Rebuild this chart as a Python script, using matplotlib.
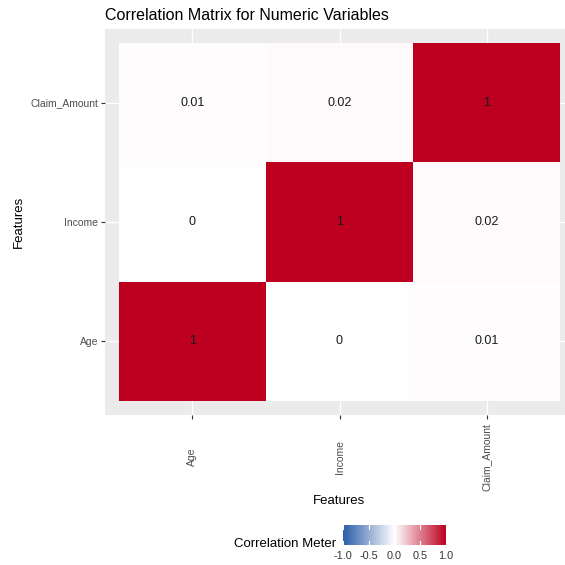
import numpy as np
import matplotlib.pyplot as plt
from matplotlib.colors import LinearSegmentedColormap, Normalize

plt.rcParams['font.family'] = ['Liberation Sans', 'DejaVu Sans']

# Data
features = ["Age", "Income", "Claim_Amount"]
corr = np.array([
    [1.00, 0.00, 0.01],
    [0.00, 1.00, 0.02],
    [0.01, 0.02, 1.00],
])
cbar_ticks = [-1.0, -0.5, 0.0, 0.5, 1.0]

cmap = LinearSegmentedColormap.from_list("rdwb", ["#2B5DA8", "#FFFFFF", "#BD0020"])
norm = Normalize(-1, 1)

W = H = 565
fig = plt.figure(figsize=(W / 100, H / 100), dpi=100)

def fx(px):
    return px / W

def fy(py):
    return 1 - py / H

# Panel (extends slightly past the right edge like the original)
left, right, top, bottom = 105, 574, 29, 415
ax = fig.add_axes([fx(left), fy(bottom), fx(right - left), (bottom - top) / H])
ax.set_facecolor("#EBEBEB")
n = len(features)
pad = 0.095
ax.set_xlim(0.5 - pad, n + 0.5 + pad)
ax.set_ylim(0.5 - pad * 147 / 120.7, n + 0.5 + pad * 147 / 120.7)

xs = np.arange(n + 1) + 0.5
ax.pcolormesh(xs, xs, corr, cmap=cmap, norm=norm, zorder=2)

for i in range(n):
    for j in range(n):
        v = corr[i, j]
        label = f"{v:g}" if v in (0, 1) else f"{v:.2f}"
        ax.text(j + 1, i + 1, label, ha="center", va="center",
                fontsize=9, color="#1A1A1A", zorder=3)

ax.set_xticks(range(1, n + 1))
ax.set_yticks(range(1, n + 1))
ax.set_xticklabels(features, rotation=90, va="center", ha="center")
ax.set_yticklabels(features)
ax.grid(True, color="white", linewidth=1.0, zorder=0)
ax.set_axisbelow(True)
for s in ax.spines.values():
    s.set_visible(False)
ax.tick_params(axis="both", length=3, width=0.8, color="#333333",
               labelsize=7.5, labelcolor="#4D4D4D")
ax.tick_params(axis="x", pad=27)
ax.tick_params(axis="y", pad=2)

ax.set_xlabel("Features", fontsize=9.5, color="black", labelpad=3)
ax.set_ylabel("Features", fontsize=9.5, color="black", labelpad=4)

fig.text(fx(105), fy(15), "Correlation Matrix for Numeric Variables",
         fontsize=11.5, color="black", ha="left", va="center")

# Colorbar legend
cax = fig.add_axes([fx(343), fy(545), fx(446 - 343), 20 / H])
grad = np.linspace(-1, 1, 256).reshape(1, -1)
cax.imshow(grad, cmap=cmap, norm=norm, aspect="auto", extent=[-1, 1, 0, 1])
for t in cbar_ticks:
    cax.plot([t, t], [0, 0.2], color="white", lw=0.8)
    cax.plot([t, t], [0.8, 1], color="white", lw=0.8)
cax.set_xlim(-1, 1)
cax.set_ylim(0, 1)
cax.set_yticks([])
cax.set_xticks(cbar_ticks)
cax.set_xticklabels([f"{t:.1f}" for t in cbar_ticks])
cax.tick_params(axis="x", length=0, pad=4, labelsize=7.8, labelcolor="#333333")
for s in cax.spines.values():
    s.set_visible(False)

fig.text(fx(336), fy(544), "Correlation Meter", fontsize=9.5, color="black",
         ha="right", va="center")

fig.savefig("out.png", dpi=100)
